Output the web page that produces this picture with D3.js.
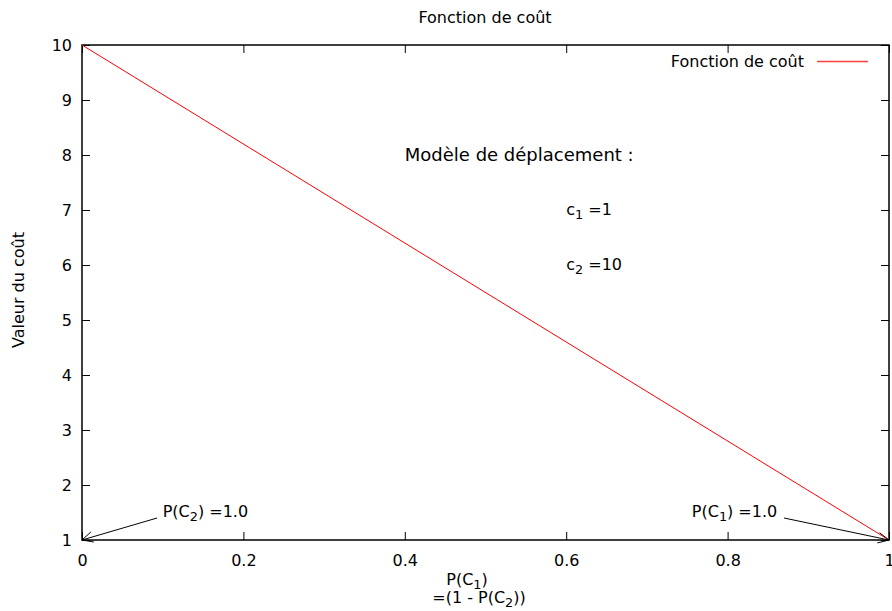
<!DOCTYPE html>
<html>
<head>
<meta charset="utf-8">
<script src="https://cdn.jsdelivr.net/npm/d3@7"></script>
<style>
body { margin: 0; background: #fff; }
text { font-family: "DejaVu Sans", sans-serif; fill: #000; }
</style>
</head>
<body>
<svg id="chart" width="892" height="611"></svg>
<script>
const width = 892
const height = 611
const margin = {top: 45, right: 3, bottom: 71, left: 82}

// data
const probC1 = [0, 1]
const costValues = [10, 1]
const xTicks = [0, 0.2, 0.4, 0.6, 0.8, 1]
const yTicks = [1, 2, 3, 4, 5, 6, 7, 8, 9, 10]
const seriesName = 'Fonction de coût'

const svg = d3.select('#chart')

const x = d3.scaleLinear().domain([0, 1]).range([margin.left, width - margin.right])
const y = d3.scaleLinear().domain([1, 10]).range([height - margin.bottom, margin.top])

const tickLen = 8
const fontSize = 16

// ticks (inward, mirrored)
function axisLines(axis, pos) {
    let g = svg.append('g').attr('transform', pos)
        .call(axis.tickSize(-tickLen).tickPadding(8))
    g.select('.domain').remove()
    g.selectAll('line').attr('stroke', '#000').attr('stroke-width', 1)
    g.selectAll('text').attr('font-size', fontSize).attr('font-family', 'DejaVu Sans').attr('fill', '#000')
    return g
}

let fmt = d => d3.format('~g')(d)
axisLines(d3.axisBottom(x).tickValues(xTicks).tickFormat(fmt), `translate(0,${y(1)})`)
    .selectAll('text').attr('dy', '1.1em')
axisLines(d3.axisLeft(y).tickValues(yTicks).tickFormat(fmt), `translate(${x(0)},0)`)
    .selectAll('text').attr('x', -10)
axisLines(d3.axisTop(x).tickValues(xTicks).tickFormat(''), `translate(0,${y(10)})`)
axisLines(d3.axisRight(y).tickValues(yTicks).tickFormat(''), `translate(${x(1)},0)`)

// border
svg.append('rect')
    .attr('x', x(0)).attr('y', y(10))
    .attr('width', x(1) - x(0)).attr('height', y(1) - y(10))
    .attr('fill', 'none').attr('stroke', '#000').attr('stroke-width', 1.5)

// series
const line = d3.line().x(d => x(d[0])).y(d => y(d[1]))
svg.append('path')
    .datum(probC1.map((p, i) => [p, costValues[i]]))
    .attr('d', line)
    .attr('fill', 'none')
    .attr('stroke', '#ff0000')
    .attr('stroke-width', 1)

// key
svg.append('text')
    .attr('x', 804).attr('y', 61)
    .attr('dy', '0.35em')
    .attr('text-anchor', 'end')
    .attr('font-size', fontSize)
    .text(seriesName)
svg.append('line')
    .attr('x1', 817).attr('x2', 868)
    .attr('y1', 61.5).attr('y2', 61.5)
    .style('stroke', '#ff0000').style('stroke-width', 1.5).style('stroke-opacity', 0.75)

// enhanced text helper: parts [text, sub?, dy]
function richText(xp, yp, parts, anchor, size) {
    let fs = size || fontSize
    let t = svg.append('text')
        .attr('x', xp).attr('y', yp + fs * 0.3)
        .attr('font-size', fs)
        .attr('text-anchor', anchor || 'start')
    parts.forEach(p => {
        if (p[1]) {
            t.append('tspan').attr('font-size', fs * 0.8).attr('dy', 4).text(p[0])
        } else if (p[2]) {
            t.append('tspan').attr('dy', p[2]).text(p[0])
        } else {
            t.append('tspan').text(p[0])
        }
    })
    return t
}

// labels
richText(x(0.4), y(8) + 1, [['Modèle de déplacement :']], 'start', 18)
richText(x(0.6), y(7), [['c'], ['1', true], [' =1', false, -4]])
richText(x(0.6), y(6), [['c'], ['2', true], [' =10', false, -4]])
richText(x(0.1), y(1.5), [['P(C'], ['2', true], [') =1.0', false, -4]])
richText(x(0.8615), y(1.5), [['P(C'], ['1', true], [') =1.0', false, -4]], 'end')

// arrows
const arrows = [
    {from: [0.093, 1.4], to: [0, 1]},
    {from: [0.87, 1.4], to: [1, 1]}
]
arrows.forEach(a => {
    let x1 = x(a.from[0]), y1 = y(a.from[1]), x2 = x(a.to[0]), y2 = y(a.to[1])
    svg.append('line')
        .attr('x1', x1).attr('y1', y1).attr('x2', x2).attr('y2', y2)
        .attr('stroke', '#000').attr('stroke-width', 1)
    let ang = Math.atan2(y1 - y2, x1 - x2)
    let head = [ang - 0.45, ang + 0.45].map(t => [x2 + 12 * Math.cos(t), y2 + 12 * Math.sin(t)])
    svg.append('path')
        .attr('d', `M${head[0]}L${x2},${y2}L${head[1]}`)
        .attr('fill', 'none').attr('stroke', '#000').attr('stroke-width', 1)
})

// title
svg.append('text')
    .attr('x', 485).attr('y', 23)
    .attr('text-anchor', 'middle')
    .attr('font-family', 'Liberation Sans')
    .attr('font-size', 16)
    .text('Fonction de coût')

// y label
svg.append('text')
    .attr('transform', `translate(24,290) rotate(-90)`)
    .attr('text-anchor', 'middle')
    .attr('font-family', 'Liberation Sans')
    .attr('font-size', 16)
    .text('Valeur du coût')

// x label (two lines)
let xl = svg.append('text').attr('x', 467).attr('y', 585)
    .attr('text-anchor', 'middle').attr('font-size', fontSize)
xl.append('tspan').text('P(C')
xl.append('tspan').attr('font-size', fontSize * 0.8).attr('dy', 4).text('1')
xl.append('tspan').attr('dy', -4).text(')')
let xl2 = svg.append('text').attr('x', 479).attr('y', 603)
    .attr('text-anchor', 'middle').attr('font-size', fontSize)
xl2.append('tspan').text('=(1 - P(C')
xl2.append('tspan').attr('font-size', fontSize * 0.8).attr('dy', 4).text('2')
xl2.append('tspan').attr('dy', -4).text('))')
</script>
</body>
</html>
